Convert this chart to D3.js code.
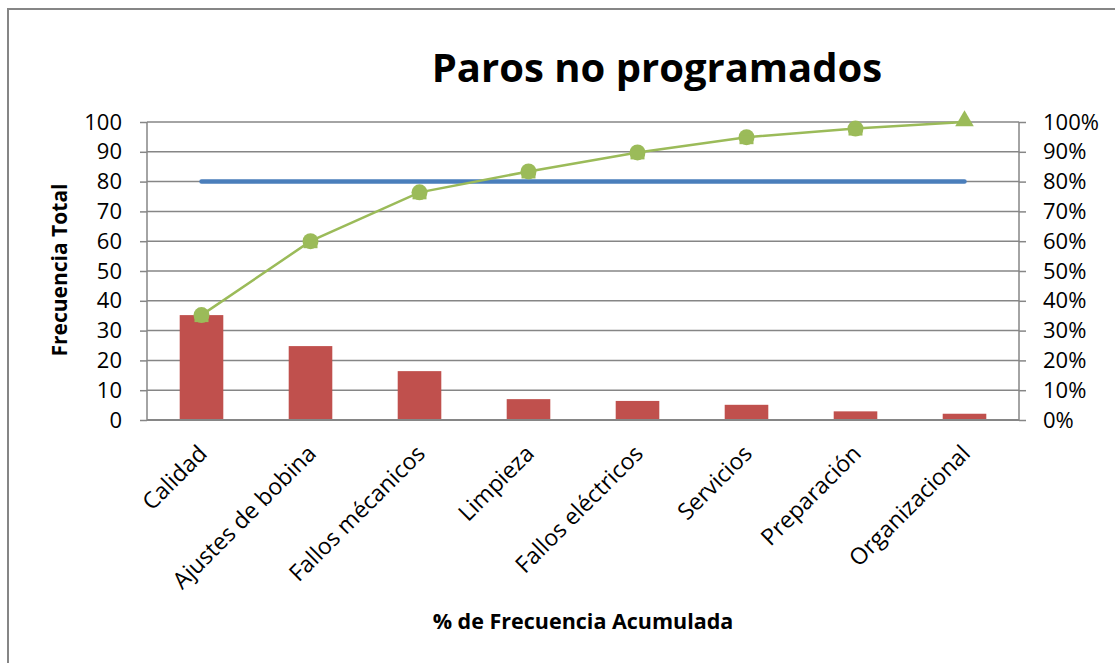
<!DOCTYPE html>
<html>
<head>
<meta charset="utf-8">
<script src="https://cdn.jsdelivr.net/npm/d3@7"></script>
<style>
  body { margin: 0; background: #fff; }
  text { font-family: "Open Sans", sans-serif; fill: #000; }
</style>
</head>
<body>
<svg width="1115" height="663"></svg>
<script>
var categories = ["Calidad", "Ajustes de bobina", "Fallos mécanicos", "Limpieza",
                  "Fallos eléctricos", "Servicios", "Preparación", "Organizacional"];
var frecuencia = [35.2, 24.8, 16.4, 7.0, 6.4, 5.1, 2.9, 2.1];
var acumulado = [35.2, 60.0, 76.4, 83.4, 89.8, 94.9, 97.8, 100];
var referencia = [80, 80, 80, 80, 80, 80, 80, 80];
var leftTicks = [0, 10, 20, 30, 40, 50, 60, 70, 80, 90, 100];
var rightTicks = [0, 0.1, 0.2, 0.3, 0.4, 0.5, 0.6, 0.7, 0.8, 0.9, 1];

var loadVis = function() {
    var svg = d3.select("svg");
    var grey = "#868686";

    // outer frame (runs off the right and bottom)
    svg.append("rect")
        .attr("x", 8).attr("y", 9)
        .attr("width", 1200).attr("height", 700)
        .attr("fill", "none")
        .attr("stroke", grey)
        .attr("stroke-width", 2);

    var left = 147, right = 1019, top = 122, bottom = 420;

    var x = d3.scaleBand()
        .domain(categories)
        .range([left, right])
        .paddingInner(0.6)
        .paddingOuter(0.3);

    var y = d3.scaleLinear().domain([0, 100]).range([bottom, top]);
    var yPct = d3.scaleLinear().domain([0, 1]).range([bottom, top]);

    // gridlines
    svg.append("g")
        .selectAll("line")
        .data(leftTicks).enter()
        .append("line")
            .attr("x1", left).attr("x2", right)
            .attr("y1", function(d) { return y(d); })
            .attr("y2", function(d) { return y(d); })
            .attr("stroke", grey)
            .attr("stroke-width", 1.5);

    // left axis
    var yAxis = svg.append("g")
        .attr("transform", "translate(" + left + ",0)")
        .call(d3.axisLeft(y).tickValues(leftTicks).tickSize(7).tickPadding(18));
    yAxis.selectAll("path, line").attr("stroke", grey).attr("stroke-width", 1.5);
    yAxis.select("path").attr("d", "M0," + top + "V" + bottom);
    yAxis.selectAll("text").style("font-size", "22px").style("font-family", "Open Sans");

    // right axis
    var rAxis = svg.append("g")
        .attr("transform", "translate(" + right + ",0)")
        .call(d3.axisRight(yPct).tickValues(rightTicks).tickFormat(d3.format(".0%")).tickSize(7).tickPadding(17));
    rAxis.selectAll("path, line").attr("stroke", grey).attr("stroke-width", 1.5);
    rAxis.select("path").attr("d", "M0," + top + "V" + bottom);
    rAxis.selectAll("text").style("font-size", "22px").style("font-family", "Open Sans");

    // bars
    svg.append("g")
        .selectAll("rect")
        .data(frecuencia).enter()
        .append("rect")
            .attr("x", function(d, i) { return x(categories[i]); })
            .attr("y", function(d) { return y(d); })
            .attr("width", x.bandwidth())
            .attr("height", function(d) { return bottom - y(d); })
            .attr("fill", "#C0504D");

    // bottom axis line
    svg.append("line")
        .attr("x1", left).attr("x2", right)
        .attr("y1", bottom).attr("y2", bottom)
        .attr("stroke", grey).attr("stroke-width", 2);

    var cx = function(i) { return x(categories[i]) + x.bandwidth() / 2; };

    // 80% reference line
    svg.append("path")
        .datum(referencia)
        .attr("d", d3.line().x(function(d, i) { return cx(i); }).y(function(d) { return y(d); }))
        .attr("fill", "none")
        .attr("stroke", "#4A7EBB")
        .attr("stroke-width", 4.5)
        .attr("stroke-linecap", "round");

    // cumulative line
    svg.append("path")
        .datum(acumulado)
        .attr("d", d3.line().x(function(d, i) { return cx(i); }).y(function(d) { return y(d); }))
        .attr("fill", "none")
        .attr("stroke", "#9BBB59")
        .attr("stroke-width", 2.5);

    var last = acumulado.length - 1;
    var markers = svg.append("g").attr("fill", "#9BBB59");
    markers.selectAll("circle")
        .data(acumulado.slice(0, last)).enter()
        .append("circle")
            .attr("cx", function(d, i) { return cx(i); })
            .attr("cy", function(d) { return y(d); })
            .attr("r", 8);
    markers.selectAll("rect")
        .data(acumulado.slice(0, last)).enter()
        .append("rect")
            .attr("x", function(d, i) { return cx(i) - 7; })
            .attr("y", function(d) { return y(d) - 2; })
            .attr("width", 14).attr("height", 9);
    markers.append("path")
        .attr("d", d3.symbol().type(d3.symbolTriangle).size(150))
        .attr("transform", "translate(" + cx(last) + "," + (y(acumulado[last]) - 1) + ")");

    // category labels
    svg.append("g")
        .selectAll("text")
        .data(categories).enter()
        .append("text")
            .attr("transform", function(d, i) {
                return "translate(" + (cx(i) + 7) + "," + (bottom + 35) + ") rotate(-45)";
            })
            .attr("text-anchor", "end")
            .style("font-size", "23px")
            .text(function(d) { return d; });

    // titles
    svg.append("text")
        .attr("x", 657).attr("y", 82)
        .attr("text-anchor", "middle")
        .style("font-size", "40px")
        .style("font-weight", "bold")
        .text("Paros no programados");

    svg.append("text")
        .attr("transform", "translate(67,270) rotate(-90)")
        .attr("text-anchor", "middle")
        .style("font-size", "21px")
        .style("font-weight", "bold")
        .text("Frecuencia Total");

    svg.append("text")
        .attr("x", 583).attr("y", 629)
        .attr("text-anchor", "middle")
        .style("font-size", "21.5px")
        .style("font-weight", "bold")
        .text("% de Frecuencia Acumulada");
};

document.addEventListener('DOMContentLoaded', loadVis, false);
</script>
</body>
</html>
